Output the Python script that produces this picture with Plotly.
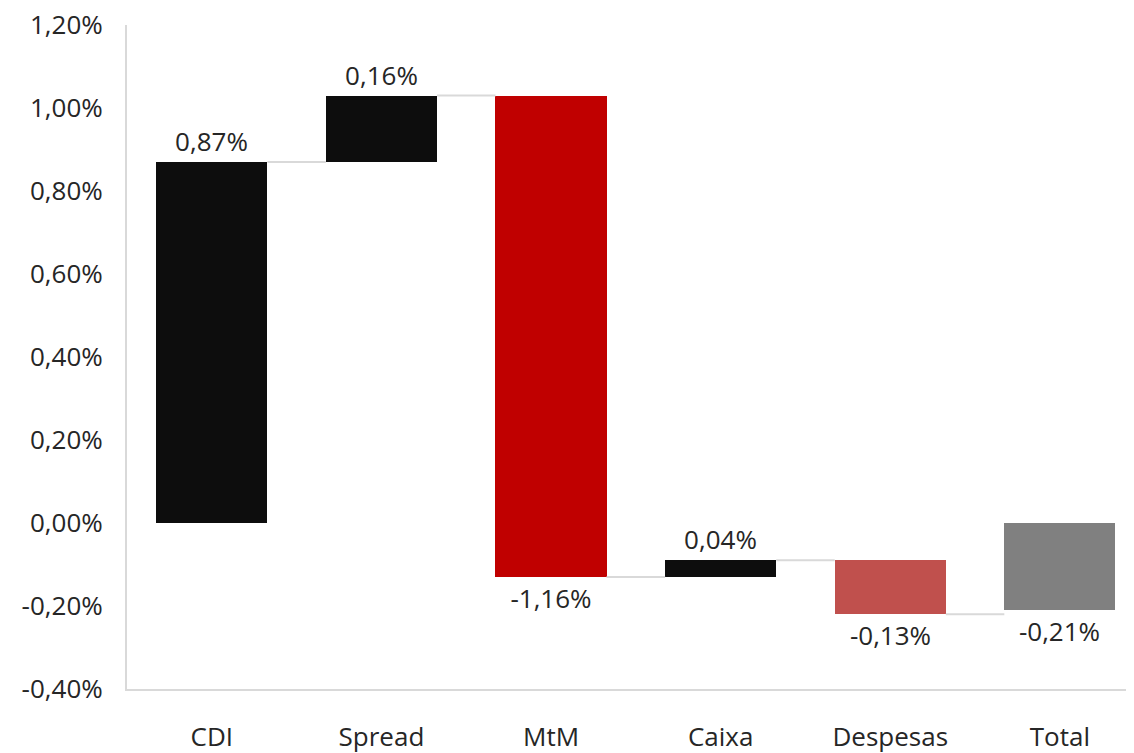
import plotly.graph_objects as go

categories = ["CDI", "Spread", "MtM", "Caixa", "Despesas", "Total"]
deltas = [0.87, 0.16, -1.16, 0.04, -0.13]
total_value = -0.21
bar_colors = ["#0D0D0D", "#0D0D0D", "#C00000", "#0D0D0D", "#C0504D", "#808080"]
ytick_vals = [-0.4, -0.2, 0.0, 0.2, 0.4, 0.6, 0.8, 1.0, 1.2]
ytick_text = ["-0,40%", "-0,20%", "0,00%", "0,20%", "0,40%", "0,60%", "0,80%", "1,00%", "1,20%"]

def fmt(v):
    return (f"{v:.2f}".replace(".", ",")) + "%"

# compute bases via cumulative sums
bases, ys, levels = [], [], []
cum = 0.0
for d in deltas:
    bases.append(cum)
    ys.append(d)
    cum += d
    levels.append(cum)
bases.append(0.0)
ys.append(total_value)
levels.append(total_value)

xs = list(range(len(categories)))
W = 0.655
FONT = "Open Sans"
FS = 26
TXT = "#262626"

fig = go.Figure()
fig.add_trace(go.Bar(
    x=xs, y=ys, base=bases, width=W,
    marker=dict(color=bar_colors, line=dict(width=0)),
    text=[fmt(v) for v in ys],
    textposition="outside",
    constraintext="none",
    textfont=dict(family=FONT, size=FS, color=TXT),
    cliponaxis=False,
    showlegend=False,
))

# connectors between consecutive bars at the running level
for i in range(len(categories) - 1):
    fig.add_trace(go.Scatter(
        x=[i + W / 2, i + 1 - W / 2], y=[levels[i], levels[i]],
        mode="lines", line=dict(color="#D9D9D9", width=2),
        showlegend=False, hoverinfo="skip",
    ))

fig.update_layout(
    width=1134, height=753,
    margin=dict(l=119, r=8, t=17, b=72, autoexpand=False),
    paper_bgcolor="white", plot_bgcolor="white",
    font=dict(family=FONT, size=FS, color=TXT),
    bargap=0,
)
fig.update_xaxes(
    range=[-0.5, 5.437], tickvals=xs, ticktext=categories,
    showgrid=False, zeroline=False, automargin=False,
    showline=True, linecolor="#D9D9D9", linewidth=2,
    ticks="", ticklabelstandoff=24, ticklabeloverflow="allow",
    tickfont=dict(family=FONT, size=FS, color=TXT),
)
fig.update_yaxes(
    range=[-0.4, 1.2], tickvals=ytick_vals, ticktext=ytick_text,
    showgrid=False, zeroline=False, automargin=False,
    showline=True, linecolor="#D9D9D9", linewidth=2,
    ticks="", ticklabelstandoff=17, ticklabeloverflow="allow",
    tickfont=dict(family=FONT, size=FS, color=TXT),
)

fig.write_html("out.html")
